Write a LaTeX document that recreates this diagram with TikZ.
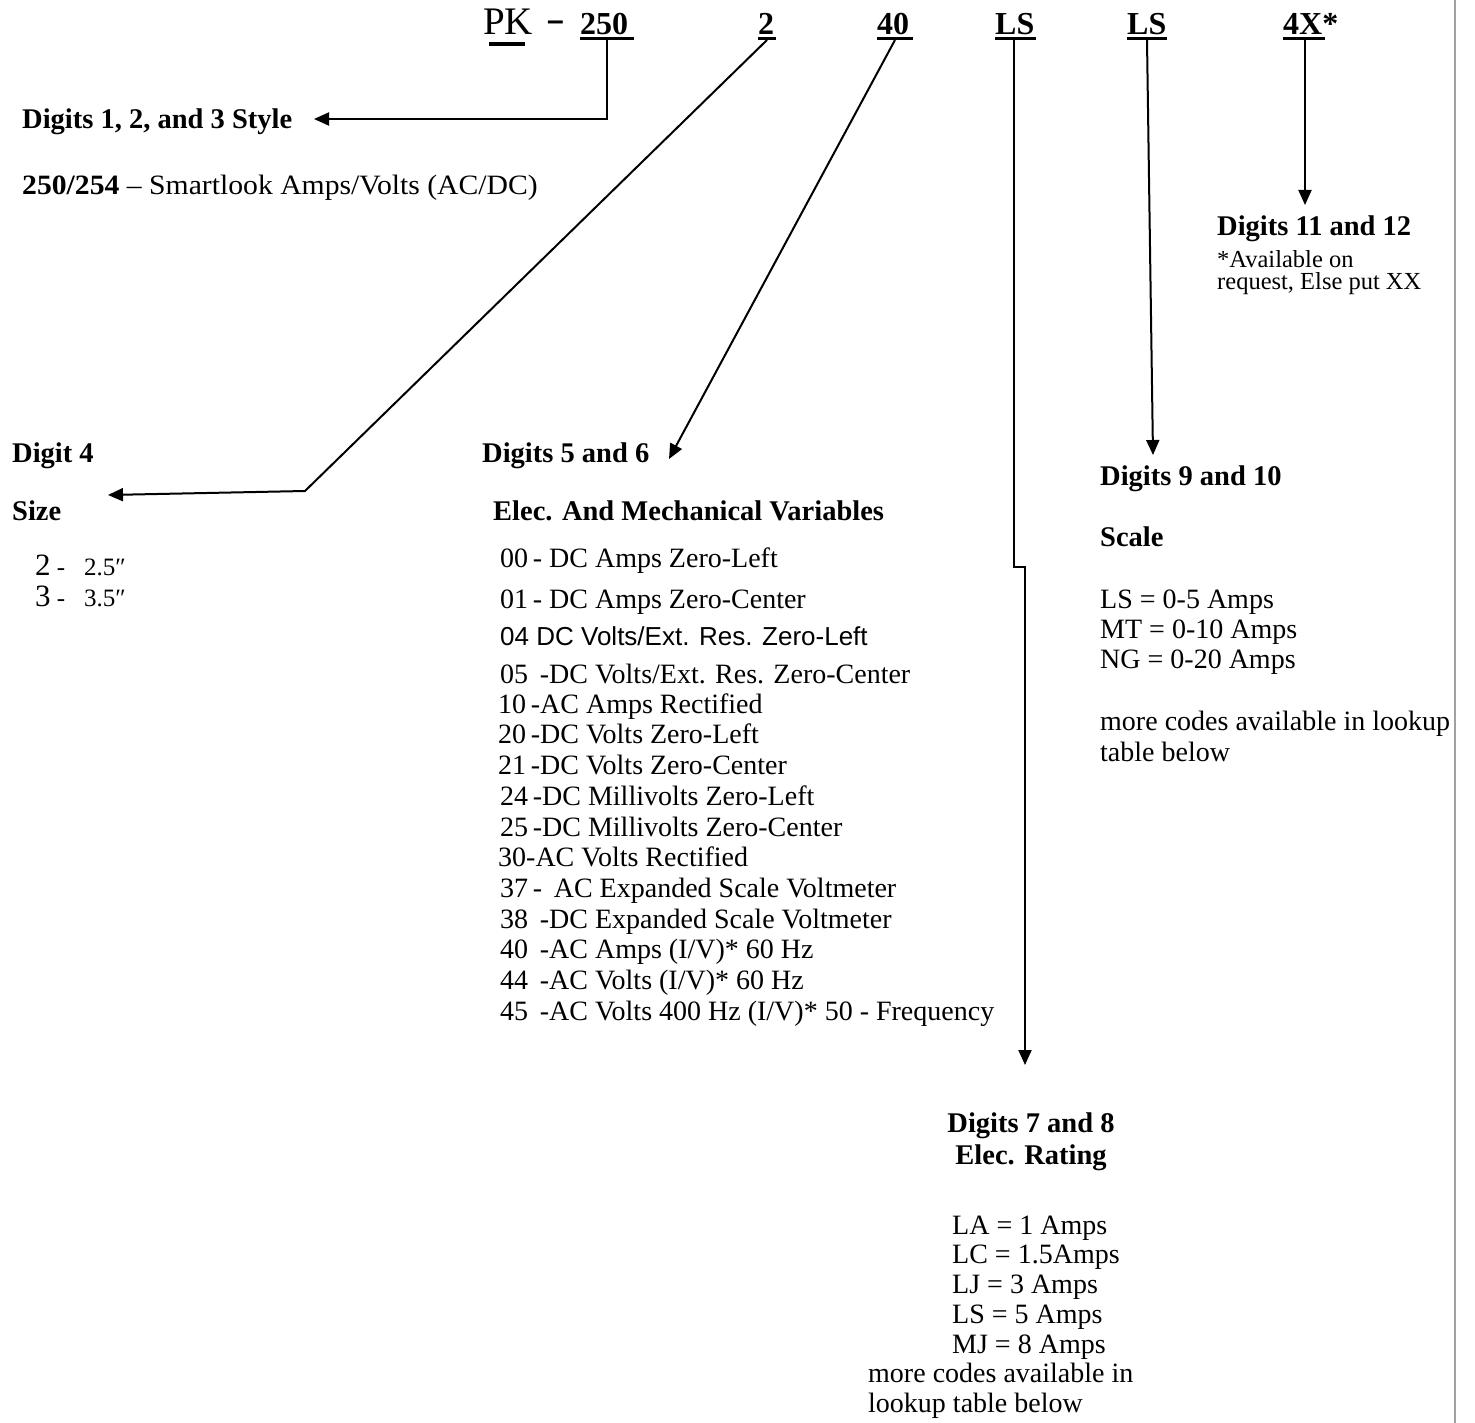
\documentclass[tikz,border=0pt]{standalone}
\usepackage{fontspec}
\setmainfont{Liberation Serif}
\newfontfamily\helvfam{Liberation Sans}
\newfontfamily\tmsfam{Liberation Serif}
\usetikzlibrary{arrows.meta}
\tikzset{
  txt/.style={anchor=base west, inner sep=0pt, font=\fontsize{28}{30}\selectfont},
  small/.style={anchor=base west, inner sep=0pt, font=\fontsize{24.5}{26}\selectfont},
  hd/.style={anchor=base west, inner sep=0pt, font=\fontsize{28.5}{30}\selectfont\bfseries},
  hdc/.style={anchor=base, inner sep=0pt, font=\fontsize{28.5}{30}\selectfont\bfseries},
  code/.style={anchor=base west, inner sep=0pt, font=\tmsfam\bfseries\fontsize{32}{36}\selectfont},
  sanstxt/.style={anchor=base west, inner sep=0pt, font=\helvfam\fontsize{26}{30}\selectfont},
  uline/.style={line width=3.5pt},
  conn/.style={line width=2pt, -{Triangle[length=15pt,width=13pt]}},
}
\begin{document}
\begin{tikzpicture}[x=1pt,y=-1pt]
\useasboundingbox (0,0) rectangle (1475,1423);
\fill[white] (0,0) rectangle (1475,1423);
% right border line
\draw[black!37, line width=2.5pt] (1455,0) -- (1455,1423);

% header code
\node[anchor=base west, inner sep=0pt, font=\tmsfam\fontsize{39}{40}\selectfont] (pk) at (483,35) {PK};
\node[anchor=base west, inner sep=0pt, font=\helvfam\bfseries\fontsize{30}{32}\selectfont] (dash) at (547,31) {–};
\node[code] (c250) at (580,35) {250};
\node[code] (c2) at (758,35) {2};
\node[code] (c40) at (877,35) {40};
\node[code] (cls1) at (995,35) {LS};
\node[code] (cls2) at (1127,35) {LS};
\node[code] (c4x) at (1283,35) {4X*};
\draw[uline] (489,44) -- (525,44);
\draw[uline] (580,38.5) -- (634,38.5);
\draw[uline] (758,38.5) -- (776,38.5);
\draw[uline] (877,38.5) -- (913,38.5);
\draw[uline] (995,38.5) -- (1036,38.5);
\draw[uline] (1127,38.5) -- (1167,38.5);
\draw[uline] (1283,38.5) -- (1325,38.5);

% section texts
\node[hd] (style) at (22,129) {Digits 1, 2, and 3 Style};
\node[txt, xscale=1.06, transform shape] (styledesc) at (22,195) {\textbf{250/254} – Smartlook Amps/Volts (AC/DC)};

\node[hd] (d1112) at (1217,236) {Digits 11 and 12};
\node[small] (avail1) at (1217,268) {*Available on};
\node[small] (avail2) at (1217,290) {request, Else put XX};

\node[hd] (d4) at (12,462) {Digit 4};
\node[hd] (size) at (12,520) {Size};
\node[anchor=base west, inner sep=0pt] (sz2) at (35,575) {\fontsize{31}{32}\selectfont 2\fontsize{25}{26}\selectfont\ -\ \ \ 2.5″};
\node[anchor=base west, inner sep=0pt] (sz3) at (35,606) {\fontsize{31}{32}\selectfont 3\fontsize{25}{26}\selectfont\ -\ \ \ 3.5″};

\node[hd] (d56) at (482,462) {Digits 5 and 6};
\node[hd] (elec) at (493,520) {Elec. And Mechanical Variables};
\node[txt] (v00) at (500,567) {00\,- DC Amps Zero-Left};
\node[txt] (v01) at (500,608) {01\,- DC Amps Zero-Center};
\node[sanstxt] (v04) at (500,645) {04 DC Volts/Ext. Res. Zero-Left};
\node[txt] (v05) at (500,683) {05\ \,-DC Volts/Ext. Res. Zero-Center};
\node[txt] (v10) at (498,713) {10\,-AC Amps Rectified};
\node[txt] (v20) at (498,743) {20\,-DC Volts Zero-Left};
\node[txt] (v21) at (498,774) {21\,-DC Volts Zero-Center};
\node[txt] (v24) at (500,805) {24\,-DC Millivolts Zero-Left};
\node[txt] (v25) at (500,836) {25\,-DC Millivolts Zero-Center};
\node[txt] (v30) at (498,866) {30-AC Volts Rectified};
\node[txt] (v37) at (500,897) {37\,-\ \,AC Expanded Scale Voltmeter};
\node[txt] (v38) at (500,928) {38\ \,-DC Expanded Scale Voltmeter};
\node[txt] (v40) at (500,958) {40\ \,-AC Amps (I/V)* 60 Hz};
\node[txt] (v44) at (500,989) {44\ \,-AC Volts (I/V)* 60 Hz};
\node[txt] (v45) at (500,1020) {45\ \,-AC Volts 400 Hz (I/V)* 50 - Frequency};

\node[hd] (d910) at (1100,485) {Digits 9 and 10};
\node[hd] (scale) at (1100,546) {Scale};
\node[txt] (s1) at (1100,608) {LS = 0-5 Amps};
\node[txt] (s2) at (1100,638) {MT = 0-10 Amps};
\node[txt] (s3) at (1100,668) {NG = 0-20 Amps};
\node[txt] (s4) at (1100,730) {more codes available in lookup};
\node[txt] (s5) at (1100,761) {table below};

\node[hdc] (d78) at (1031,1132) {Digits 7 and 8};
\node[hdc] (rating) at (1031,1164) {Elec. Rating};
\node[txt] (r1) at (952,1234) {LA = 1 Amps};
\node[txt] (r2) at (952,1263) {LC = 1.5Amps};
\node[txt] (r3) at (952,1293) {LJ = 3 Amps};
\node[txt] (r4) at (952,1323) {LS = 5 Amps};
\node[txt] (r5) at (952,1353) {MJ = 8 Amps};
\node[txt] (r6) at (868,1382) {more codes available in};
\node[txt] (r7) at (868,1412) {lookup table below};

% connector coordinates
\coordinate (s250) at (607,40);
\coordinate (t250) at (314,119);
\coordinate (s2c) at (767,40);
\coordinate (k2) at (305,491);
\coordinate (t2) at (108,495);
\coordinate (s40) at (895,40);
\coordinate (t40) at (669,459);
\coordinate (sls1) at (1014,40);
\coordinate (k1a) at (1014,567);
\coordinate (k1b) at (1025,567);
\coordinate (tls1) at (1025,1065);
\coordinate (sls2) at (1147,40);
\coordinate (tls2) at (1153,455);
\coordinate (s4x) at (1305,40);
\coordinate (t4x) at (1305,205);

\draw[conn] (s250) |- (t250);
\draw[conn] (s2c) -- (k2) -- (t2);
\draw[conn] (s40) -- (t40);
\draw[conn] (sls1) -- (k1a) -- (k1b) -- (tls1);
\draw[conn] (sls2) -- (tls2);
\draw[conn] (s4x) -- (t4x);
\end{tikzpicture}
\end{document}
